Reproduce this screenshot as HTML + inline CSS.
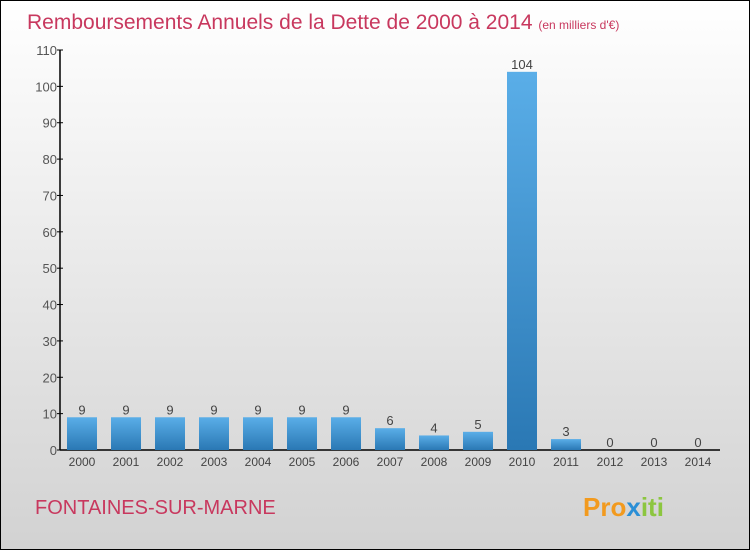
<!DOCTYPE html>
<html><head><meta charset="utf-8"><style>
body{margin:0}
#c{width:748px;height:548px;border:1px solid #000;background:linear-gradient(#fff,#d2d2d2);position:relative;overflow:hidden;font-family:"Liberation Sans",sans-serif}
</style></head><body>
<div id="c">
<svg width="748" height="548" viewBox="1 1 748 548" xmlns="http://www.w3.org/2000/svg">
<defs><linearGradient id="bg" x1="0" y1="0" x2="0" y2="1"><stop offset="0" stop-color="#5aaee8"/><stop offset="1" stop-color="#2a78b4"/></linearGradient></defs>
<text x="27" y="29" font-size="21" fill="#c8385e">Remboursements Annuels de la Dette de 2000 à 2014 <tspan font-size="12">(en milliers d'€)</tspan></text>
<g id="yaxis"></g>
<g id="bars"></g>
<text x="35" y="514" font-size="20" fill="#c8385e">FONTAINES-SUR-MARNE</text>
<text x="583" y="516" font-size="26" font-weight="bold"><tspan fill="#f29a1e">Pro</tspan><tspan fill="#2a8fd6">x</tspan><tspan fill="#8cc63f">iti</tspan></text>
</svg>
</div>
<script>
const years=["2000","2001","2002","2003","2004","2005","2006","2007","2008","2009","2010","2011","2012","2013","2014"];
const values=[9,9,9,9,9,9,9,6,4,5,104,3,0,0,0];
const yTicks=[0,10,20,30,40,50,60,70,80,90,100,110];
const NS="http://www.w3.org/2000/svg";
const y=v=>450-v*400/110;
const x=i=>82+i*44;
function mk(t,a,p){const e=document.createElementNS(NS,t);for(const k in a)e.setAttribute(k,a[k]);p.appendChild(e);return e;}
const ya=document.getElementById('yaxis'),bs=document.getElementById('bars');
const ax=mk('line',{x1:60,y1:50,x2:60,y2:450,stroke:'#000','stroke-width':1.5},ya);


const xl=mk('line',{x1:60,y1:450,x2:720,y2:450,stroke:'#000','stroke-width':1.5},ya);


yTicks.forEach(t=>{
 const l=mk('line',{x1:57,y1:y(t),x2:63,y2:y(t),stroke:'#000'},ya);
 
 
 const tx=mk('text',{x:57,y:y(t)+5,'font-size':13,fill:'#555','text-anchor':'end'},ya);
 tx.textContent=t;
 
 
});
years.forEach((yr,i)=>{
 const v=values[i];
 if(v>0){const r=mk('rect',{x:x(i)-15,y:y(v),width:30,height:450-y(v),fill:'url(#bg)'},bs);
 
 }
 const lb=mk('text',{x:x(i),y:y(v)-3,'font-size':13,fill:'#444','text-anchor':'middle'},bs);
 lb.textContent=v;
 
 
 const xt=mk('text',{x:x(i),y:466,'font-size':12,fill:'#444','text-anchor':'middle'},bs);
 xt.textContent=yr;
 
 
});
</script>
</body></html>
